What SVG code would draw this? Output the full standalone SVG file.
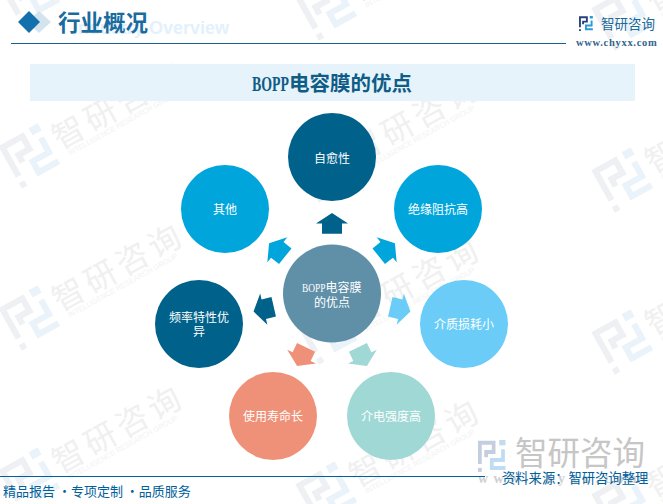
<svg xmlns="http://www.w3.org/2000/svg" width="663" height="504" viewBox="0 0 663 504">
<style>
text{font-family:"Noto Sans CJK SC","Liberation Sans",sans-serif}
.n{fill:#fff;font-size:12px;text-anchor:middle}
.wmt{font-size:32px;fill:#f0f0f1;letter-spacing:4.5px}
.wms{font-family:"Liberation Sans",sans-serif;font-size:7.3px;fill:#f2f2f3}
.ser{font-family:"Liberation Serif","Noto Sans CJK SC",serif}
</style>
<defs>
<g id="logoW" fill="none" stroke-width="3">
<path d="M1.5 18V2H12.5V9H6.500V13" stroke="#eef0f4"/>
<path d="M20 7V15H11V21H22" stroke="#eaf3f9"/>
<path d="M0 21H3V24H0Z" fill="#eef0f4" stroke="none"/>
<path d="M17 0H22V4H17Z" fill="#eaf3f9" stroke="none"/>
</g>
<g id="wm">
<use href="#logoW" transform="translate(-23,-25) scale(2.07)"/>
<text class="wmt" x="29" y="9.500">智研咨询</text>
<text class="wms" x="35" y="19">INTELLIGENCE RESEARCH GROUP</text>
</g>
<polygon id="ar" points="0,-80.5 16,-70 10,-70 10,-59.8 -10,-59.8 -10,-70 -16,-70"/>
</defs>
<rect width="663" height="504" fill="#fff"/>
<g id="watermarks">
<use href="#wm" transform="translate(30,-6) rotate(-29)"/>
<use href="#wm" transform="translate(30,156) rotate(-29)"/>
<use href="#wm" transform="translate(30,318) rotate(-29)"/>
<use href="#wm" transform="translate(30,480) rotate(-29)"/>
<use href="#wm" transform="translate(327,8) rotate(-29)"/>
<use href="#wm" transform="translate(327,170) rotate(-29)"/>
<use href="#wm" transform="translate(327,332) rotate(-29)"/>
<use href="#wm" transform="translate(327,494) rotate(-29)"/>
<use href="#wm" transform="translate(623,18) rotate(-29)"/>
<use href="#wm" transform="translate(623,180) rotate(-29)"/>
<use href="#wm" transform="translate(623,342) rotate(-29)"/>
<use href="#wm" transform="translate(623,504) rotate(-29)"/>
</g>
<g id="header">
<text x="229" y="34" text-anchor="end" style="font-family:'Liberation Sans',sans-serif;font-size:18px;font-weight:700;fill:#e2f1fb">Industry Overview</text>
<polygon points="39,11 51,22 39,33 27,22" fill="#d4e4ee"/>
<polygon points="29,11 40,22 29,33 18,22" fill="#1470ad"/>
<text x="58" y="31" style="font-size:22.5px;font-weight:700;fill:#1a6c9f">行业概况</text>
<path d="M11 43.500H566" stroke="#1a6090" stroke-width="1"/>
<g transform="translate(579,16) scale(.63)">
<path d="M1.500 18V2H12.500V9H6.500V13" fill="none" stroke="#27427f" stroke-width="3"/>
<path d="M20 7V15H11V21H22" fill="none" stroke="#2a9bd6" stroke-width="3"/>
<path d="M0 21H3V24H0Z" fill="#27427f"/><path d="M17 0H22V4H17Z" fill="#2a9bd6"/>
</g>
<text x="601" y="28.500" style="font-size:13.500px;fill:#1a6a9a">智研咨询</text>
<text x="576" y="46" style="font-family:'Liberation Serif',serif;font-size:10.500px;font-weight:700;fill:#33648c;letter-spacing:.7px">www.chyxx.com</text>
<rect x="30" y="64" width="605" height="37" fill="#e6f3fb"/>
<text class="ser" x="252" y="91" style="font-size:20.500px;font-weight:700;fill:#0f5c86"><tspan textLength="37" lengthAdjust="spacingAndGlyphs">BOPP</tspan>电容膜的优点</text>
</g>
<g id="connectors">
<use href="#ar" transform="translate(332,293.500)" fill="#00628b"/>
<use href="#ar" transform="translate(332,293.500) rotate(51.4)" fill="#00a5dc"/>
<use href="#ar" transform="translate(332,293.500) rotate(102.900)" fill="#6bcdf7"/>
<use href="#ar" transform="translate(332,293.500) rotate(154.300)" fill="#a0d8d5"/>
<use href="#ar" transform="translate(332,293.500) rotate(205.700)" fill="#ef9178"/>
<use href="#ar" transform="translate(332,293.500) rotate(257.100)" fill="#00628b"/>
<use href="#ar" transform="translate(332,293.500) rotate(308.600)" fill="#00a5dc"/>
</g>
<g id="center"><circle cx="332" cy="293.500" r="49" fill="#5f90a8"/>
<text class="n ser" x="302" y="292" style="text-anchor:start"><tspan textLength="23.500" lengthAdjust="spacingAndGlyphs">BOPP</tspan>电容膜</text><text class="n" x="332" y="306.500">的优点</text></g>
<g id="n1"><circle cx="332" cy="157" r="44" fill="#00628b"/><text class="n" x="332" y="162.500">自愈性</text></g>
<g id="n2"><circle cx="438" cy="209" r="44" fill="#00a5dc"/><text class="n" x="438" y="213.500">绝缘阻抗高</text></g>
<g id="n3"><circle cx="464" cy="324" r="44" fill="#6bcdf7"/><text class="n" x="464" y="328.500">介质损耗小</text></g>
<g id="n4"><circle cx="391" cy="416" r="44" fill="#a0d8d5"/><text class="n" x="391" y="420.500">介电强度高</text></g>
<g id="n5"><circle cx="273" cy="416" r="44" fill="#ef9178"/><text class="n" x="273" y="420.500">使用寿命长</text></g>
<g id="n6"><circle cx="199" cy="324" r="44" fill="#00628b"/><text class="n" x="199" y="322">频率特性优</text><text class="n" x="199" y="335.500">异</text></g>
<g id="n7"><circle cx="225" cy="209" r="44" fill="#00a5dc"/><text class="n" x="225" y="213.500">其他</text></g>
<g id="footer">
<g transform="translate(478,440) scale(1.25,1.33)">
<path d="M1.500 18V2H12.500V9H6.500V13" fill="none" stroke="#c5cde0" stroke-width="3"/>
<path d="M20 7V15H11V21H22" fill="none" stroke="#bfdcf2" stroke-width="3"/>
<path d="M0 21H3V24H0Z" fill="#c5cde0"/><path d="M17 0H22V4H17Z" fill="#bfdcf2"/>
</g>
<text x="515" y="465" style="font-size:32.500px;fill:#c6c6c6">智研咨询</text>
<text x="478" y="483" style="font-family:'Liberation Serif',serif;font-size:14px;font-weight:700;fill:#d0d0d0;letter-spacing:5.500px">www.chyxx.com</text>
<path d="M0 476.500H485" stroke="#00609a" stroke-width="1"/>
<text x="3" y="496" style="font-size:13px;fill:#00609a">精品报告 ・专项定制 ・品质服务</text>
<text x="502" y="483" style="font-size:13.300px;fill:#00609a">资料来源：智研咨询整理</text>
</g>
</svg>
